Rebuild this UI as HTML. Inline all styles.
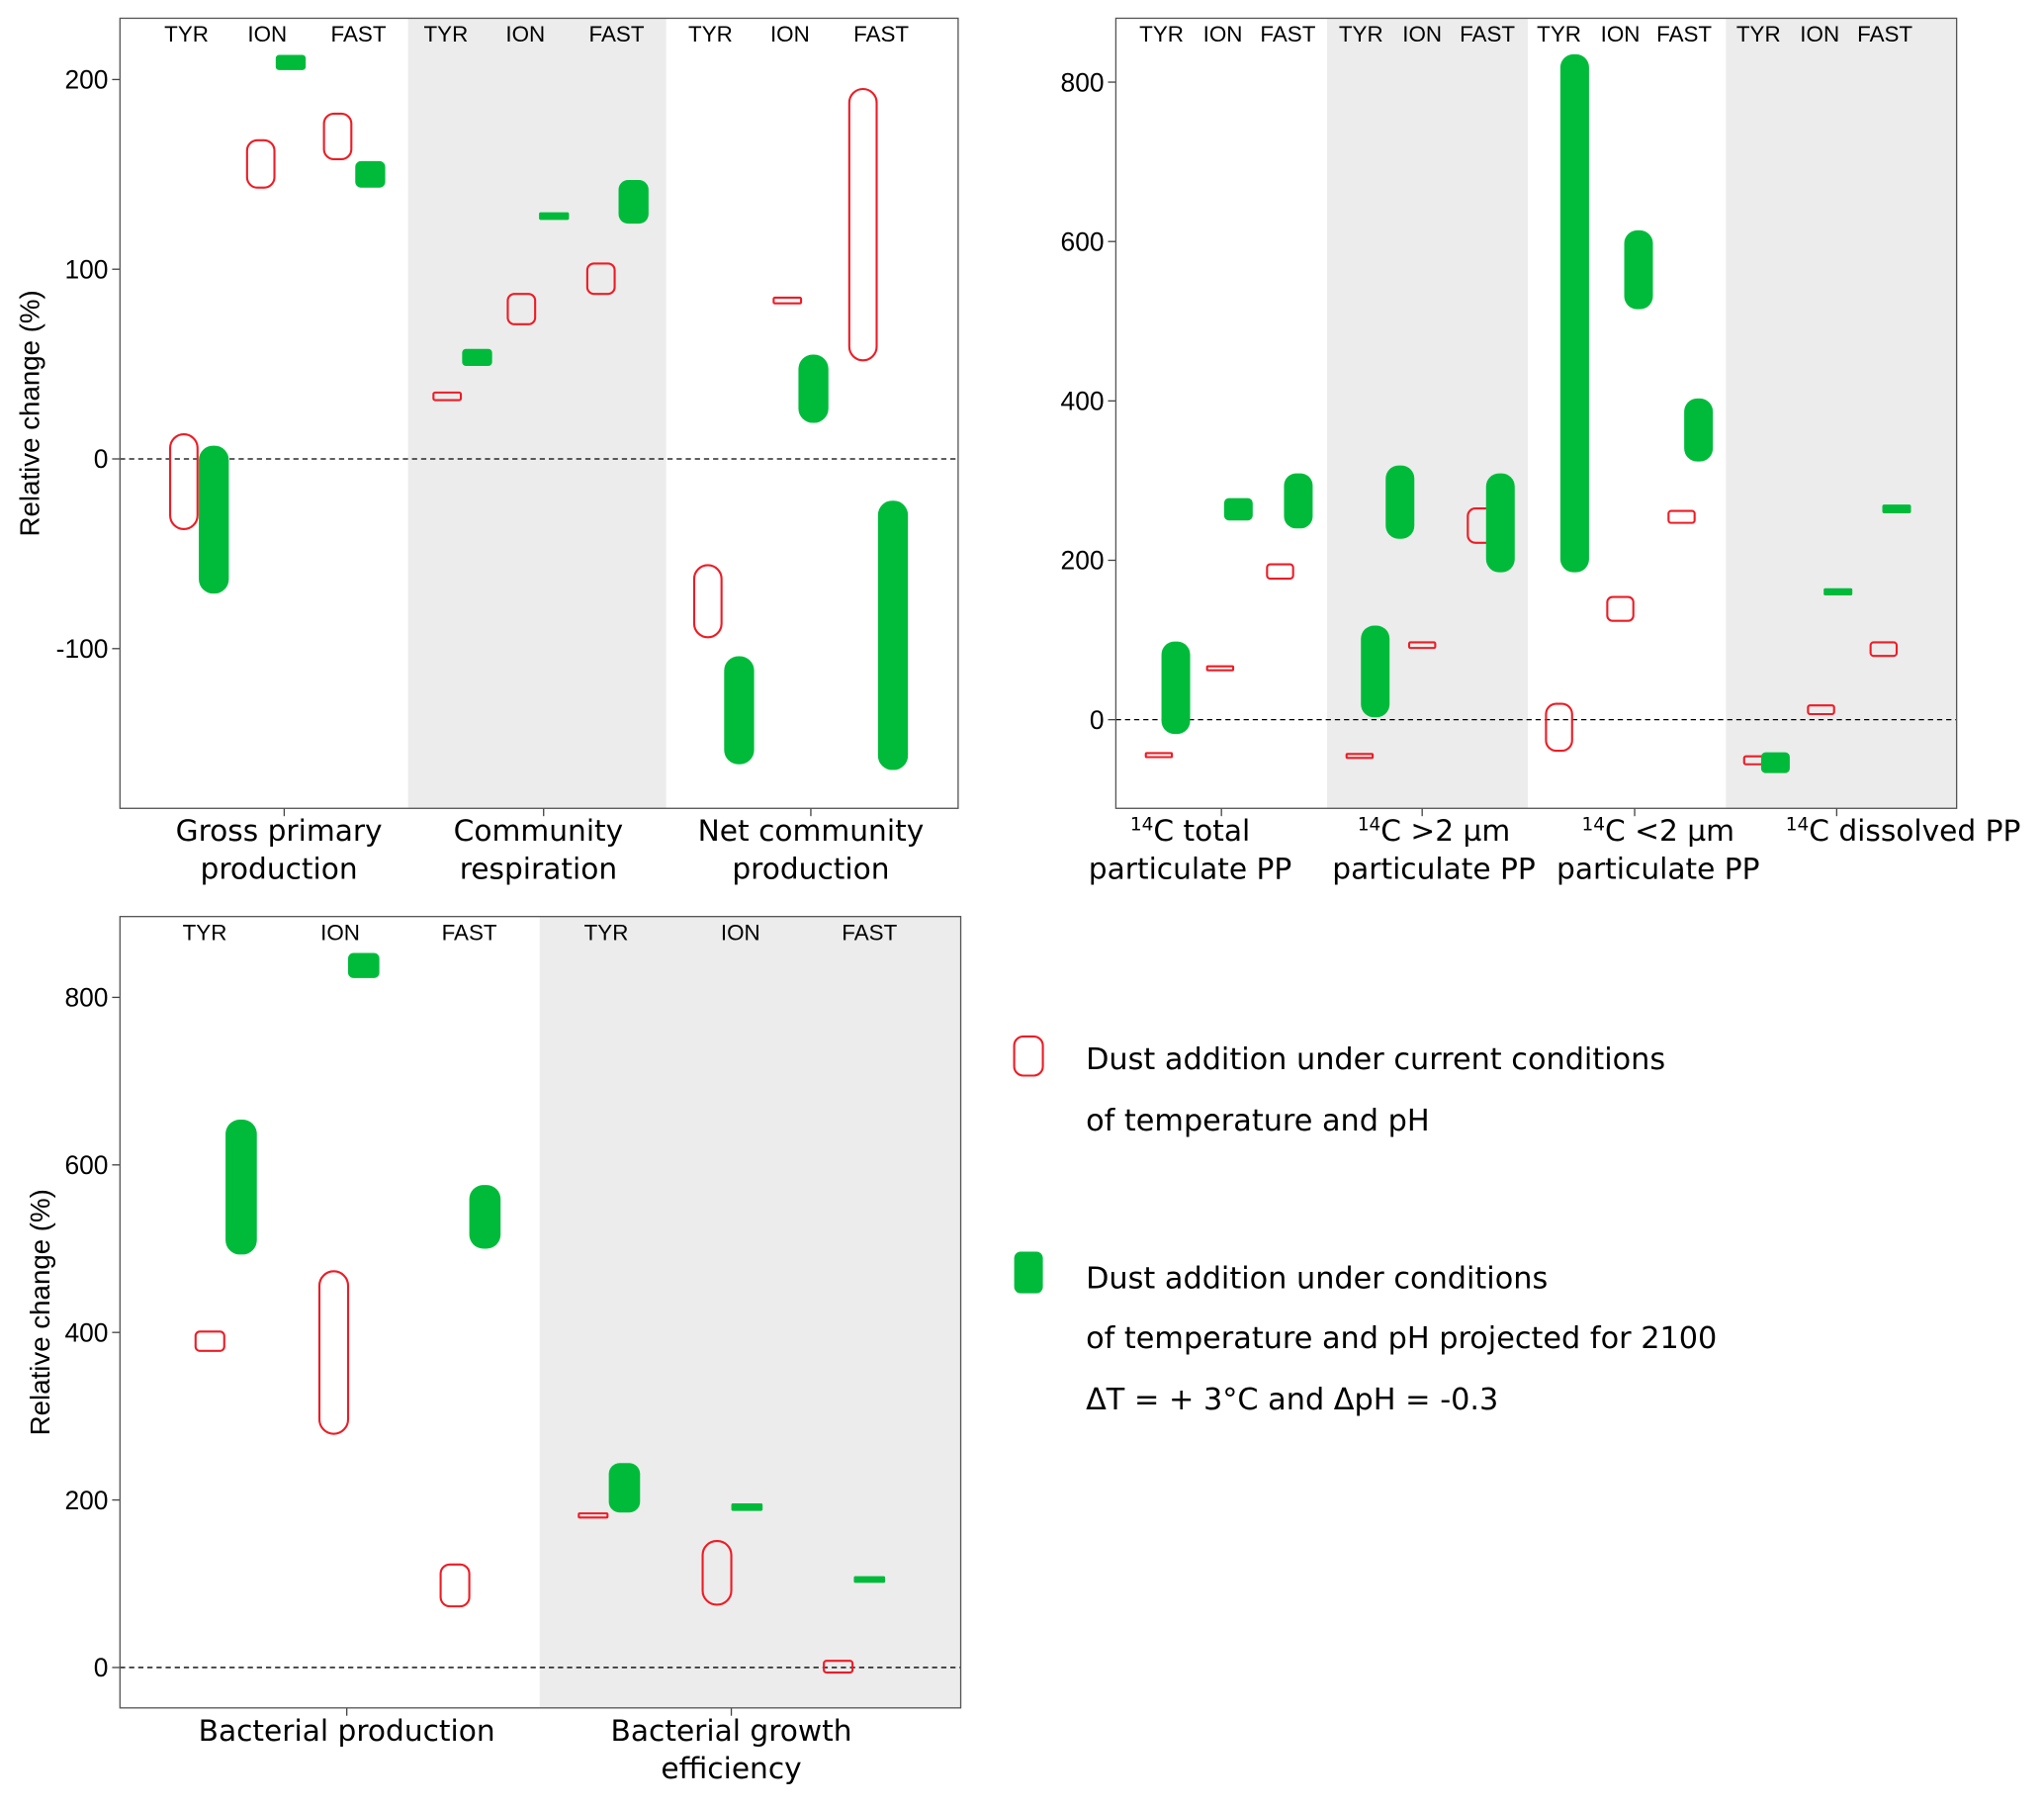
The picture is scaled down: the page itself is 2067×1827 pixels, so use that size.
<!DOCTYPE html>
<html><head><meta charset="utf-8"><style>
body{margin:0;background:#fff}
svg{display:block}
text{font-family:"Liberation Sans","DejaVu Sans",sans-serif;fill:#000}
.dv{font-family:"DejaVu Sans","Liberation Sans",sans-serif}
</style></head><body>
<svg id="chart" width="2067" height="1827" viewBox="0 0 1568 1386" xmlns="http://www.w3.org/2000/svg"></svg>
<script>
// Panel A data
const aCats=["GPP","CR","NCP"];
const aRedLo=[-37,143,158, 31,71,87, -94,82,52];
const aRedHi=[13,168,182, 35,87,103, -56,85,195];
const aGrnLo=[-71,205,143, 49,126,124, -161,19,-164];
const aGrnHi=[7,213,157, 58,130,147, -104,55,-22];
const aTicks=[-100,0,100,200];
// Panel B data
const bRedLo=[-47,62,177, -48,90,222, -39,124,247, -56,7,80];
const bRedHi=[-42,67,195, -43,97,265, 20,154,262, -46,18,97];
const bGrnLo=[-18,250,240, 3,227,185, 185,515,324, -67,156,259];
const bGrnHi=[98,278,309, 118,319,309, 835,614,403, -41,165,270];
const bTicks=[0,200,400,600,800];
// Panel C data
const cRedLo=[378,279,73, 179,75,-6];
const cRedHi=[401,473,123, 184,151,8];
const cGrnLo=[493,823,500, 185,187,101];
const cGrnHi=[654,853,576, 244,196,109];
const cTicks=[0,200,400,600,800];
const sites=["TYR","ION","FAST"];

const NS="http://www.w3.org/2000/svg";
const svg=document.getElementById('chart');
function mk(tag,attrs,parent){const e=document.createElementNS(NS,tag);for(const k in attrs)e.setAttribute(k,attrs[k]);(parent||svg).appendChild(e);return e;}
function txt(x,y,s,size,anchor,parent){const t=mk('text',{x:x,y:y,'font-size':size,'text-anchor':anchor||'middle'},parent);t.textContent=s;return t;}

function panel(o){
  const g=mk('g',{});
  
  
  const y=v=>o.y0+(v-o.v0)*(o.y1-o.y0)/(o.v1-o.v0);
  o.shade.forEach(s=>{const r=mk('rect',{x:s[0],y:o.top,width:s[1]-s[0],height:o.bot-o.top,fill:'#ececec'},g);
    });
  mk('line',{x1:o.left,x2:o.right,y1:y(0),y2:y(0),stroke:'#000','stroke-width':1,'stroke-dasharray':'4,3'},g);
  o.ticks.forEach(t=>{mk('line',{x1:o.left-6,x2:o.left,y1:y(t),y2:y(t),stroke:'#444'},g);
    const l=txt(o.left-9,y(t)+7,String(t),20,'end',g);});
  o.catX.forEach((cx,i)=>{mk('line',{x1:cx,x2:cx,y1:o.bot,y2:o.bot+6,stroke:'#444'},g);
    o.catLabels[i].forEach((ln,j)=>{const t=mk('text',{x:o.catLX?o.catLX[i]:cx,y:o.bot+25+j*29,'font-size':22.5,'text-anchor':'middle','class':'dv'},g);
      if(typeof ln==='string')t.textContent=ln;else{const s=mk('tspan',{'font-size':14,dy:-8},t);s.textContent=ln[0];const r=mk('tspan',{dy:8},t);r.textContent=ln[1];}
      });});
  o.lblX.forEach((lx,i)=>{const t=txt(lx,o.top+18,sites[i%3],17,'middle',g);});
  function bar(cx,lo,hi,w,red){const yt=y(hi),yb=y(lo),h=Math.max(yb-yt,3);
    const r=mk('rect',{x:cx-w/2,y:yt,width:w,height:h,rx:Math.min(w/2,h*0.22,o.rmax),fill:red?'none':'#00bb3a',stroke:red?'#ee1c25':'none','stroke-width':1.6},g);
    }
  o.redLo.forEach((v,i)=>bar(o.redX[i],v,o.redHi[i],o.w,true));
  o.grnLo.forEach((v,i)=>bar(o.grnX[i],v,o.grnHi[i],o.w+2,false));
  const fr=mk('rect',{x:o.left,y:o.top,width:o.right-o.left,height:o.bot-o.top,fill:'none',stroke:'#555','stroke-width':1},g);
  
  if(o.ytitle){const t=mk('text',{x:0,y:0,'font-size':21,'text-anchor':'middle',transform:`translate(${o.ytx},${(o.top+o.bot)/2}) rotate(-90)`},g);t.textContent=o.ytitle;
    }
}

panel({name:'panel-a',left:92,right:735,top:14,bot:620,y0:352,v0:0,y1:61,v1:200,ticks:aTicks,shade:[[313,511]],
  catX:[218,417,622],catLabels:[["Gross primary","production"],["Community","respiration"],["Net community","production"]],catLX:[214,413,622],
  lblX:[143,205,275,342,403,473,545,606,676],
  redX:[141,200,259,343,400,461,543,604,662],grnX:[164,223,284,366,425,486,567,624,685],
  redLo:aRedLo,redHi:aRedHi,grnLo:aGrnLo,grnHi:aGrnHi,w:21,rmax:11,ytitle:'Relative change (%)',ytx:30});
panel({name:'panel-b',left:856,right:1501,top:14,bot:620,y0:552,v0:0,y1:63,v1:800,ticks:bTicks,shade:[[1018,1172],[1324,1501]],
  catX:[937,1091,1254,1409],catLabels:[[["14","C total"],"particulate PP"],[["14","C >2 µm"],"particulate PP"],[["14","C <2 µm"],"particulate PP"],[["14","C dissolved PP"]]],catLX:[913,1100,1272,1460],
  lblX:[891,938,988,1044,1091,1141,1196,1243,1292,1349,1396,1446],
  redX:[889,936,982,1043,1091,1136,1196,1243,1290,1348,1397,1445],grnX:[902,950,996,1055,1074,1151,1208,1257,1303,1362,1410,1455],
  redLo:bRedLo,redHi:bRedHi,grnLo:bGrnLo,grnHi:bGrnHi,w:20,rmax:10});
panel({name:'panel-c',left:92,right:737,top:703,bot:1310,y0:1279,v0:0,y1:765,v1:800,ticks:cTicks,shade:[[414,737]],
  catX:[266,561],catLabels:[["Bacterial production"],["Bacterial growth","efficiency"]],
  lblX:[157,261,360,465,568,667],
  redX:[161,256,349,455,550,643],grnX:[185,279,372,479,573,667],
  redLo:cRedLo,redHi:cRedHi,grnLo:cGrnLo,grnHi:cGrnHi,w:22,rmax:11,ytitle:'Relative change (%)',ytx:38});

// legend
const lg=mk('g',{});
const r1=mk('rect',{x:778,y:795,width:22,height:30,rx:7,fill:'none',stroke:'#ee1c25','stroke-width':1.6},lg);

const r2=mk('rect',{x:778,y:960,width:22,height:32,rx:5,fill:'#00bb3a'},lg);

[["Dust addition under current conditions",820],["of temperature and pH",867],["Dust addition under conditions",988],["of temperature and pH projected for 2100",1034],["ΔT = + 3°C and ΔpH = -0.3",1081]].forEach(a=>{
  const t=txt(833,a[1],a[0],23,'start',lg);t.setAttribute('class','dv');});
</script>
</body></html>
